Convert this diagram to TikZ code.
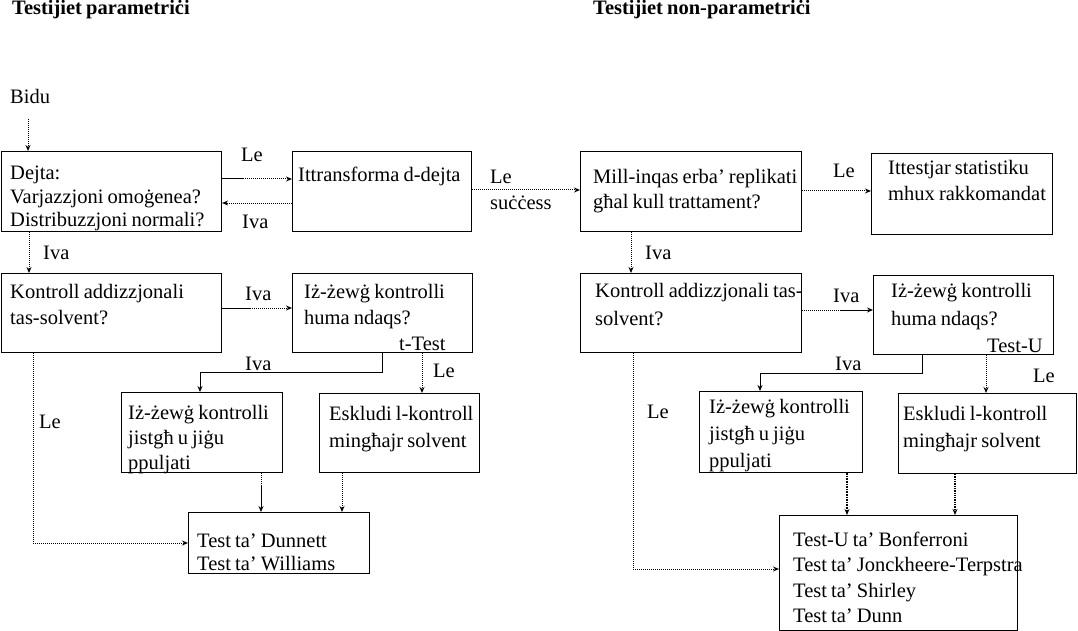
\documentclass[tikz,border=0pt]{standalone}
\usepackage{fontspec}
\setmainfont[WordSpace=0.8]{Liberation Serif}
\usetikzlibrary{arrows.meta}
\begin{document}
\begin{tikzpicture}[x=1pt,y=-1pt,
  box/.style={draw, line width=1.1pt, anchor=north west, inner sep=0pt},
  txt/.style={anchor=base west, inner sep=0pt, align=flush left, text width=280pt, font=\fontsize{20.5}{25}\selectfont},
  lab/.style={anchor=base west, inner sep=0pt, font=\fontsize{20.5}{24}\selectfont},
  ttl/.style={anchor=base west, inner sep=0pt, font=\fontsize{20.5}{22}\selectfont\bfseries},
  dotline/.style={densely dotted, line width=1pt},
  sol/.style={line width=1pt},
  arr/.style={-{Stealth[length=6pt,width=5pt]}}
]
\useasboundingbox (0,0) rectangle (1078,631);

% titles
\node[ttl] (t1) at (12,15) {Testijiet parametriċi};
\node[ttl] (t2) at (593,15) {Testijiet non-parametriċi};
\node[lab] (bidu) at (10,104) {Bidu};

% left boxes
\node[box, minimum width=220pt, minimum height=80pt] (dejta) at (1,151) {};
\node[box, minimum width=179pt, minimum height=80pt] (trans) at (292,151) {};
\node[box, minimum width=220pt, minimum height=79pt] (kontL) at (1,273) {};
\node[box, minimum width=180pt, minimum height=79pt] (zewgL) at (292,273) {};
\node[box, minimum width=161pt, minimum height=80pt] (jistL) at (121,392) {};
\node[box, minimum width=160pt, minimum height=79pt] (eskL) at (319,393) {};
\node[box, minimum width=181pt, minimum height=61pt] (dunn) at (188,512) {};

% right boxes
\node[box, minimum width=221pt, minimum height=80pt] (mill) at (580,151) {};
\node[box, minimum width=181pt, minimum height=81pt] (ittest) at (871,153) {};
\node[box, minimum width=221pt, minimum height=79pt] (kontR) at (580,273) {};
\node[box, minimum width=180pt, minimum height=79pt] (zewgR) at (873,275) {};
\node[box, minimum width=163pt, minimum height=81pt] (jistR) at (699,391) {};
\node[box, minimum width=178pt, minimum height=80pt] (eskR) at (898,393) {};
\node[box, minimum width=238pt, minimum height=115pt] (fin) at (779,515) {};

% texts left
\node[txt, font=\fontsize{20.5}{23.5}\selectfont] (dejtaT) at (10,180) {Dejta:\\Varjazzjoni omoġenea?\\Distribuzzjoni normali?};
\node[txt] (transT) at (298,182) {Ittransforma d-dejta};
\node[txt, font=\fontsize{20.5}{26}\selectfont] (kontLT) at (10,298) {Kontroll addizzjonali\\tas-solvent?};
\node[txt, font=\fontsize{20.5}{26}\selectfont] (zewgLT) at (304,298) {Iż-żewġ kontrolli\\huma ndaqs?};
\node[lab] (ttest) at (399,350) {t-Test};
\node[txt] (jistLT) at (128,419) {Iż-żewġ kontrolli\\jistgħ u jiġu\\ppuljati};
\node[txt, font=\fontsize{20.5}{27}\selectfont] (eskLT) at (329,420) {Eskludi l-kontroll\\mingħajr solvent};
\node[txt, font=\fontsize{20.5}{23}\selectfont] (dunnT) at (197,547) {Test ta’ Dunnett\\Test ta’ Williams};

% texts right
\node[txt] (millT) at (593,183) {Mill-inqas erba’ replikati\\għal kull trattament?};
\node[txt, font=\fontsize{20.5}{26}\selectfont] (ittestT) at (888,175) {Ittestjar statistiku\\mhux rakkomandat};
\node[txt, font=\fontsize{20.5}{28}\selectfont] (kontRT) at (595,297) {Kontroll addizzjonali tas-\\solvent?};
\node[txt, font=\fontsize{20.5}{28}\selectfont] (zewgRT) at (891,297) {Iż-żewġ kontrolli\\huma ndaqs?};
\node[lab] (testu) at (987,352) {Test-U};
\node[txt, font=\fontsize{20.5}{27}\selectfont] (jistRT) at (709,413) {Iż-żewġ kontrolli\\jistgħ u jiġu\\ppuljati};
\node[txt, font=\fontsize{20.5}{27}\selectfont] (eskRT) at (903,420) {Eskludi l-kontroll\\mingħajr solvent};
\node[txt, font=\fontsize{20.5}{25.5}\selectfont] (finT) at (793,546) {Test-U ta’ Bonferroni\\Test ta’ Jonckheere-Terpstra\\Test ta’ Shirley\\Test ta’ Dunn};

% labels left
\node[lab] (l1) at (241,162) {Le};
\node[lab] (l2) at (242,228) {Iva};
\node[lab] (l3) at (43,259) {Iva};
\node[lab] (l4) at (245,300) {Iva};
\node[lab] (l5) at (245,370) {Iva};
\node[lab] (l6) at (433,377) {Le};
\node[lab] (l7) at (39,428) {Le};

% labels right
\node[lab] (r0) at (490,184) {Le};
\node[lab] (r0b) at (490,209) {suċċess};
\node[lab] (r1) at (833,178) {Le};
\node[lab] (r2) at (645,259) {Iva};
\node[lab] (r3) at (833,302) {Iva};
\node[lab] (r4) at (835,370) {Iva};
\node[lab] (r5) at (1033,382) {Le};
\node[lab] (r6) at (647,418) {Le};

% connectors left
\coordinate (b0) at (28,119);
\draw[dotline, arr] (b0) -- (b0 |- dejta.north);
\coordinate (d1) at (243,179);
\draw[sol] (dejta.east |- d1) -- (d1);
\draw[dotline, arr] (d1) -- (trans.west |- d1);
\draw[dotline, arr] (trans.west |- 0,203) -- (dejta.east |- 0,203);
\draw[dotline, arr] (29,0 |- dejta.south) -- (29,0 |- kontL.north);
\coordinate (k1) at (250,308);
\draw[sol] (kontL.east |- k1) -- (k1);
\draw[dotline, arr] (k1) -- (zewgL.west |- k1);
\draw[sol, arr] (382,0 |- zewgL.south) -- (382,372) -- (200,372) -- (200,0 |- jistL.north);
\draw[dotline, arr] (422,0 |- zewgL.south) -- (422,0 |- eskL.north);
\draw[dotline, arr] (33,0 |- kontL.south) -- (33,543) -- (dunn.west |- 0,543);
\coordinate (j1) at (261,485);
\draw[dotline] (j1 |- jistL.south) -- (j1);
\draw[sol, arr] (j1) -- (j1 |- dunn.north);
\draw[dotline, arr] (342,0 |- eskL.south) -- (342,0 |- dunn.north);

% connectors middle/right
\draw[dotline, arr] (trans.east |- 0,190) -- (mill.west |- 0,190);
\draw[dotline, arr] (mill.east |- 0,191) -- (ittest.west |- 0,191);
\draw[dotline, arr] (631,0 |- mill.south) -- (631,0 |- kontR.north);
\coordinate (k2) at (840,310);
\draw[dotline] (kontR.east |- k2) -- (k2);
\draw[sol, arr] (k2) -- (zewgR.west |- k2);
\draw[sol, arr] (922,0 |- zewgR.south) -- (922,373) -- (760,373) -- (760,0 |- jistR.north);
\draw[dotline, arr] (986,0 |- zewgR.south) -- (986,0 |- eskR.north);
\draw[dotline, arr] (633,0 |- kontR.south) -- (633,569) -- (fin.west |- 0,569);
\draw[dotline, line width=1.6pt, arr] (847,0 |- jistR.south) -- (847,0 |- fin.north);
\draw[dotline, line width=1.3pt, arr] (955,0 |- eskR.south) -- (955,0 |- fin.north);
\end{tikzpicture}
\end{document}
